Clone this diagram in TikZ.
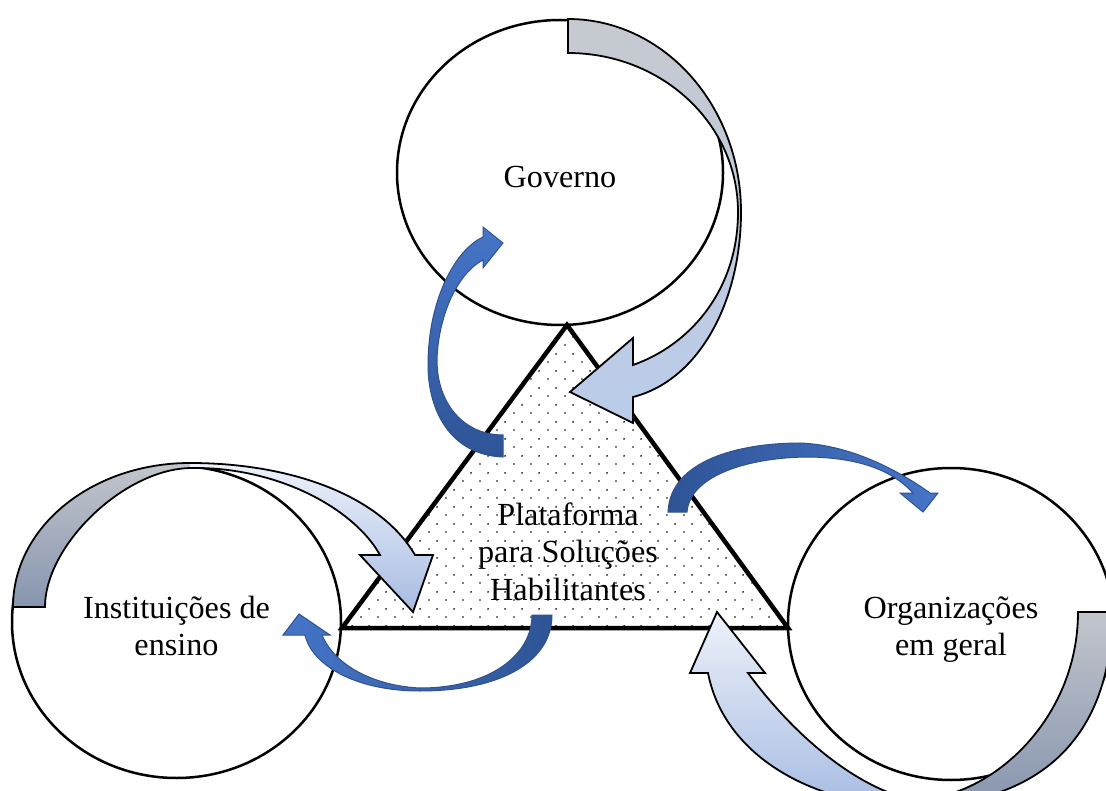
\documentclass[tikz,border=0pt]{standalone}
\usepackage{fontspec}
\setmainfont{Liberation Serif}
\usetikzlibrary{shapes.geometric,patterns}

% sparse staggered dot fill for the central triangle
\pgfdeclarepatternformonly{sparsedots}{\pgfpointorigin}{\pgfpoint{17pt}{17pt}}{\pgfpoint{17pt}{17pt}}{%
  \pgfpathcircle{\pgfpoint{4.25pt}{4.25pt}}{1.0pt}%
  \pgfpathcircle{\pgfpoint{12.75pt}{12.75pt}}{1.0pt}%
  \pgfusepath{fill}}

\definecolor{tailTop}{HTML}{C3C6CC}
\definecolor{tailBot}{HTML}{8594AE}
\definecolor{headTop}{HTML}{EEF2FA}
\definecolor{headBot}{HTML}{A6BBE2}
\definecolor{govTop}{HTML}{C6C9CF}
\definecolor{govMid}{HTML}{A8B4CC}
\definecolor{govBot}{HTML}{BACCEB}
\definecolor{blueLight}{HTML}{4675C8}
\definecolor{blueDark}{HTML}{2E5496}
\definecolor{blueEdge}{HTML}{2F528F}

% outlines of the ribbon arrows (pixel-like units, y downwards)
\newcommand\govRibbon{(568,19) .. controls (663.5,19) and (741,105.5) .. (741,212)
  .. controls (741,300) and (700,380) .. (633,397) -- (633,423) -- (570,392) -- (633,338) -- (633,365)
  .. controls (690,345) and (738,290) .. (738,212) .. controls (738,124) and (662,53) .. (568,53) -- cycle}
\newcommand\ensRibbon{(13,607) .. controls (13,527) and (92,463) .. (190,463)
  .. controls (290,463) and (380,495) .. (415,555) -- (433,555) -- (413,612) -- (360,555) -- (380,555)
  .. controls (355,510) and (280,467) .. (192,468) .. controls (125,468) and (45,545) .. (45,607) -- cycle}
\newcommand\orgRibbon{(1078,612) -- (1112,612) .. controls (1112,737) and (1040,806) .. (910,806)
  .. controls (820,806) and (725,760) .. (708,673) -- (690,673) -- (717,612) -- (765,673) -- (748,673)
  .. controls (790,730) and (850,785) .. (912,800) .. controls (990,800) and (1078,720) .. (1078,612) -- cycle}

\tikzset{
  circ/.style={ellipse, draw=black, line width=2.5pt, fill=white, inner sep=0pt},
  txt/.style={font=\fontsize{32.2}{37.5}\selectfont, align=center, inner sep=0pt},
  bigedge/.style={draw=black, line width=1.8pt, line join=miter},
  smalledge/.style={draw=blueEdge, line width=1pt, line join=miter},
}

\begin{document}
\begin{tikzpicture}[x=1pt,y=-1pt]
\useasboundingbox (0,0) rectangle (1106,791);
\clip (0,0) rectangle (1106,791);

% the three actors
\node[circ, minimum width=326pt, minimum height=305pt] (gov) at (560,172.5) {};
\node[circ, minimum width=329pt, minimum height=312pt] (ens) at (176.5,622) {};
\node[circ, minimum width=326pt, minimum height=312pt] (org) at (951,624) {};

% central platform
\draw[line width=4.5pt, pattern=sparsedots] (567,325) coordinate (apex) -- (788,628) coordinate (right)
  -- (342,628) coordinate (left) -- cycle;

% ribbon arrow: Governo -> platform
\begin{scope}
  \clip \govRibbon;
  \shade[top color=govTop, middle color=govMid, bottom color=govBot] (560,15) rectangle (745,427);
\end{scope}
\draw[bigedge] \govRibbon;

% ribbon arrow: Instituicoes -> platform
\begin{scope}
  \clip \ensRibbon;
  \shade[top color=tailTop, bottom color=tailBot] (10,461) rectangle (191,610);
  \shade[top color=headTop, bottom color=headBot] (190,461) rectangle (436,614);
\end{scope}
\draw[bigedge] \ensRibbon;

% ribbon arrow: Organizacoes -> platform
\begin{scope}
  \clip \orgRibbon;
  \shade[top color=tailTop, bottom color=tailBot] (910,610) rectangle (1115,810);
  \shade[top color=headTop, bottom color=headBot] (686,610) rectangle (911,810);
\end{scope}
\draw[bigedge] \orgRibbon;

% platform -> Governo
\shade[top color=blueLight, bottom color=blueDark, smalledge]
  (503,435) -- (503,457) .. controls (450,455) and (428,410) .. (428,365)
  .. controls (428,300) and (455,250) .. (483,237) -- (483,227) -- (503,243) -- (483,268) -- (483,260)
  .. controls (455,275) and (438,320) .. (437,360) .. controls (437,405) and (465,435) .. (503,435) -- cycle;

% platform -> Instituicoes
\shade[left color=blueLight, right color=blueDark, smalledge]
  (532,615) -- (552,615) .. controls (552,662) and (500,691) .. (420,691)
  .. controls (355,691) and (312,665) .. (305,635) -- (283,635) -- (299,614) -- (330,635) -- (322,635)
  .. controls (335,666) and (375,686) .. (420,688) .. controls (490,688) and (532,655) .. (532,615) -- cycle;

% platform -> Organizacoes
\shade[left color=blueDark, right color=blueLight, smalledge]
  (668,512) .. controls (670,460) and (740,443) .. (800,443)
  .. controls (855,445) and (905,475) .. (930,493) -- (938,493) -- (923,512) -- (900,493) -- (913,493)
  .. controls (890,468) and (855,458) .. (810,457) .. controls (750,457) and (690,475) .. (687,512) -- cycle;

% labels
\node[txt, anchor=base] (govtxt) at (560,188) {Governo};
\node[txt] (plattxt) at (568,551.5) {Plataforma\\para Soluções\\Habilitantes};
\node[txt] (enstxt) at (176.5,625.8) {Instituições de\\ensino};
\node[txt] (orgtxt) at (951,629.4) {Organizações\\em geral};
\end{tikzpicture}
\end{document}
